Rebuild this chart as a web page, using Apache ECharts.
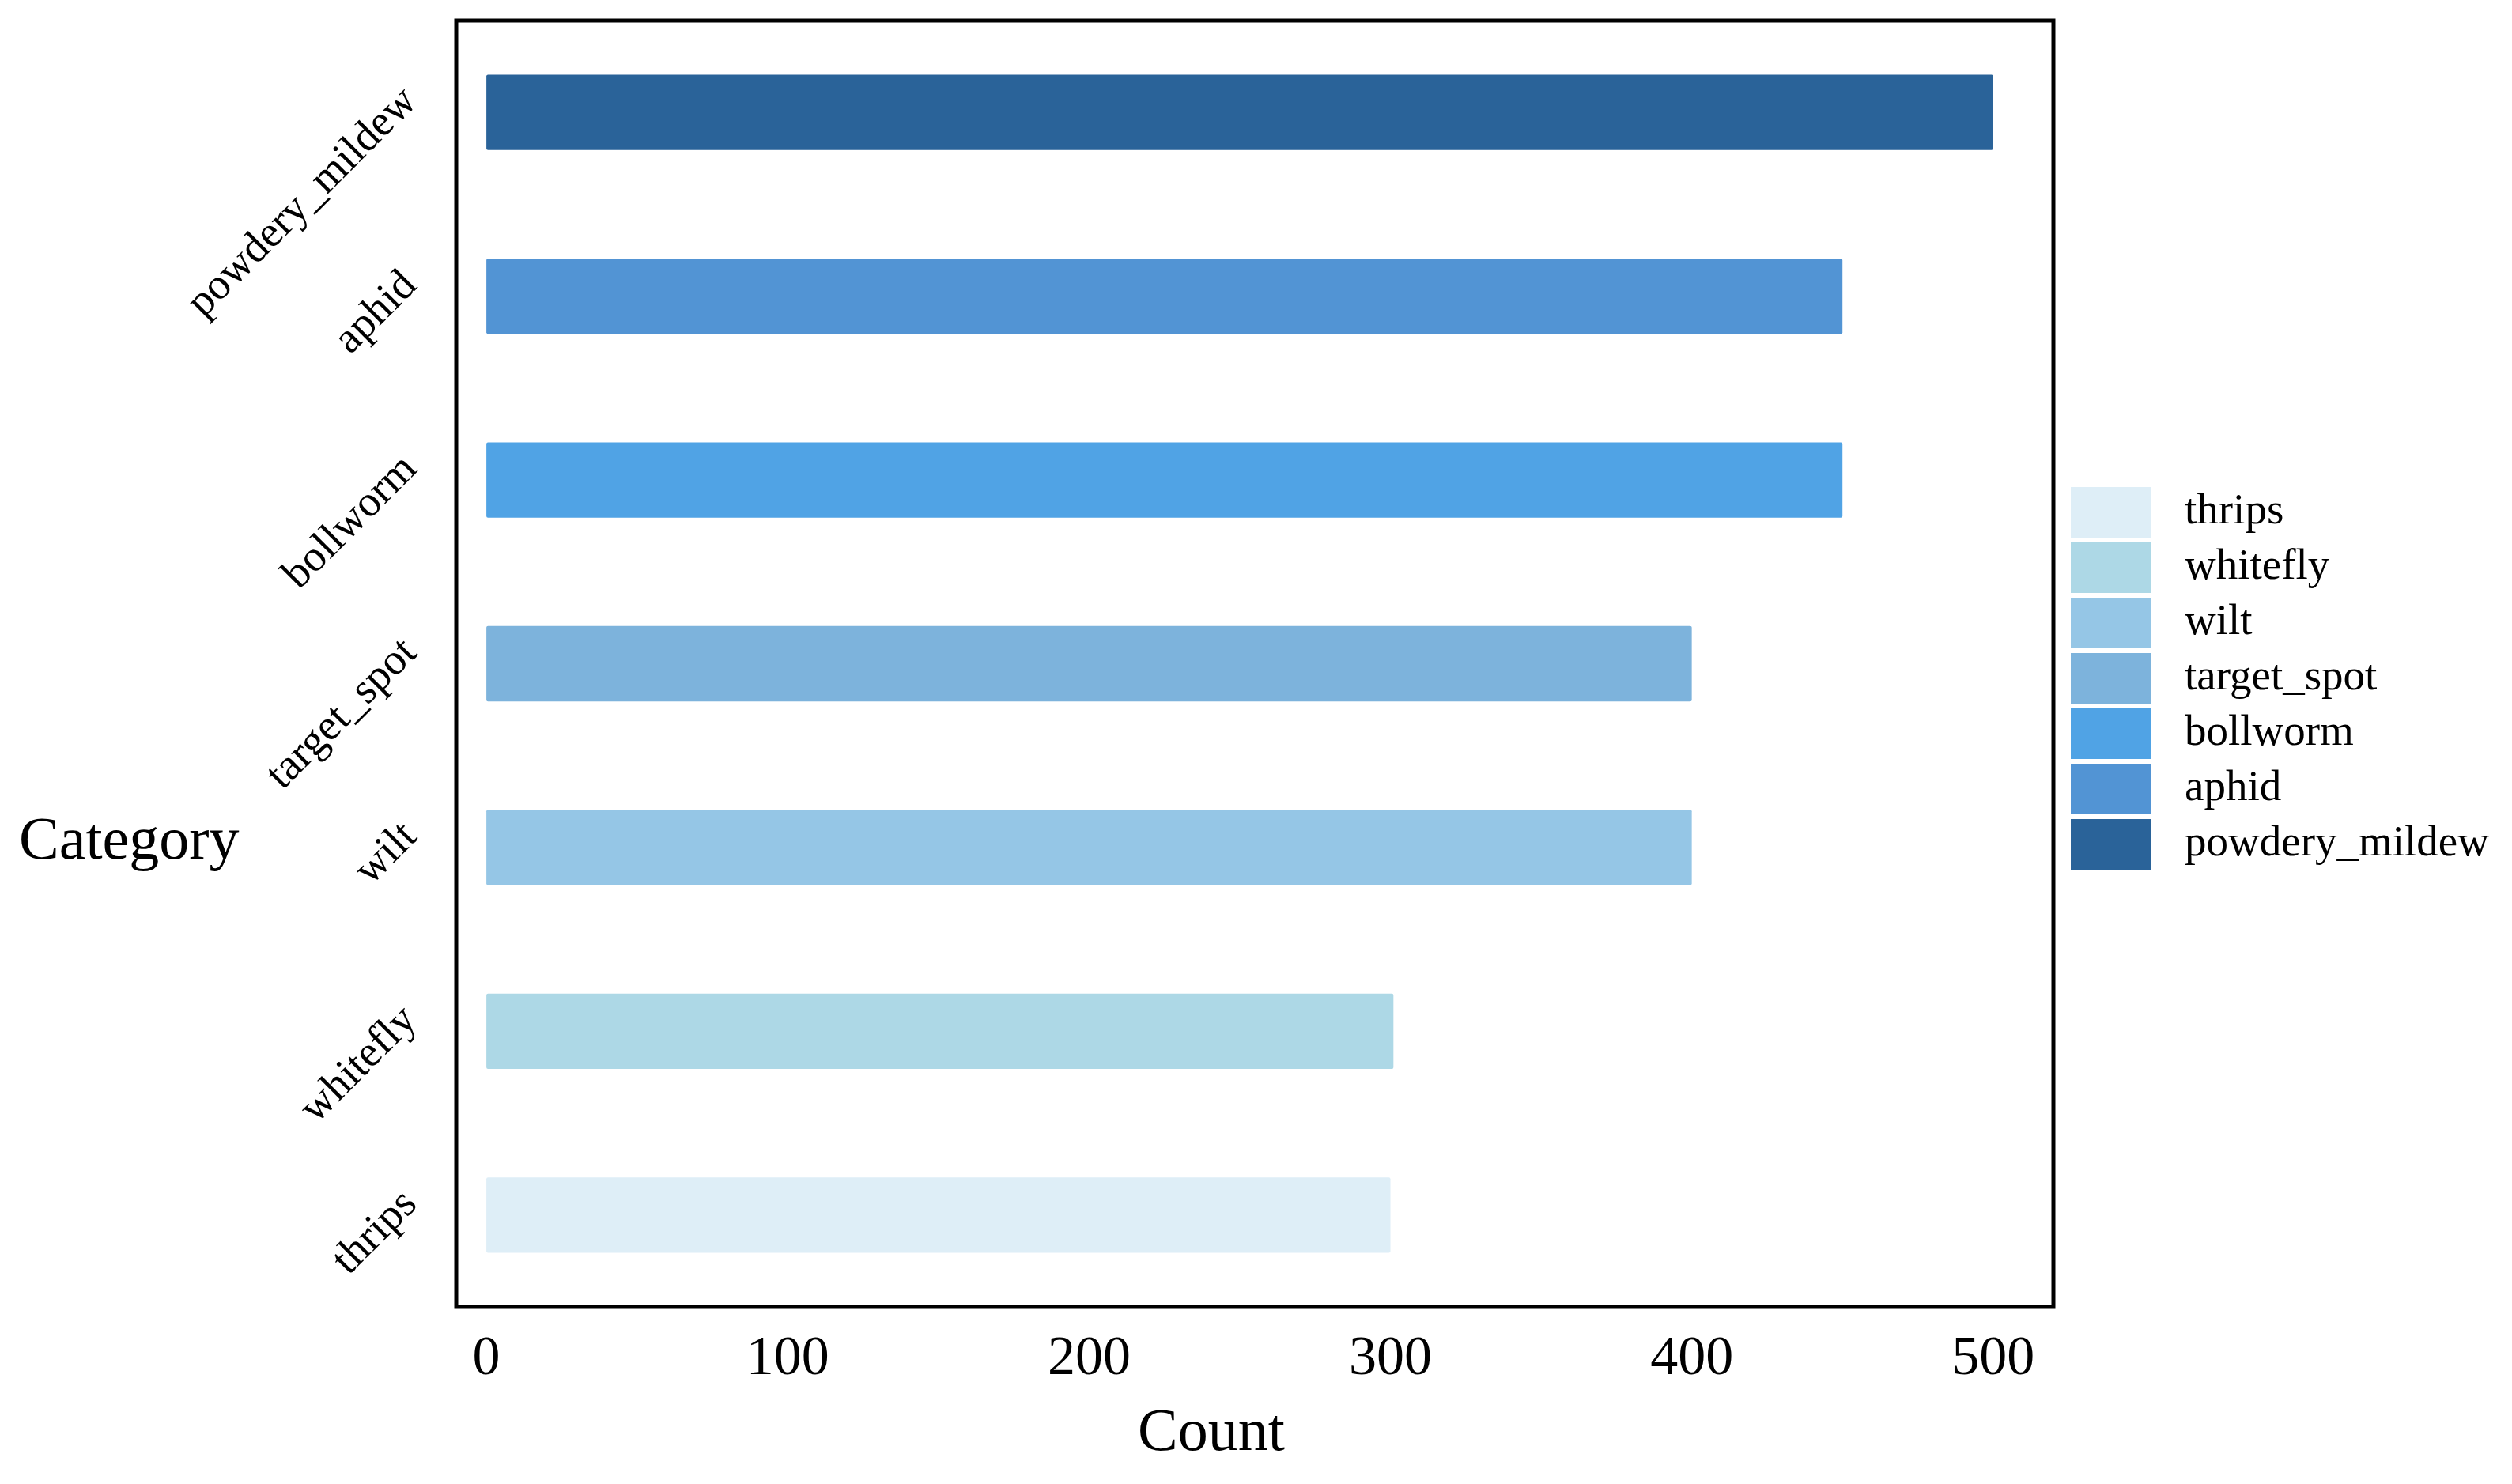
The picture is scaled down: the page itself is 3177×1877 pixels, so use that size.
<!DOCTYPE html>
<html>
<head>
<meta charset="utf-8">
<script src="https://cdn.jsdelivr.net/npm/echarts@6/dist/echarts.min.js"></script>
<style>
  html, body { margin: 0; padding: 0; background: #fff; }
  #chart { width: 3177px; height: 1877px; }
</style>
</head>
<body>
<div id="chart"></div>
<script>
// bottom to top, same order as the legend
var categories = ['thrips', 'whitefly', 'wilt', 'target_spot', 'bollworm', 'aphid', 'powdery_mildew'];
var counts = [300, 301, 400, 400, 450, 450, 500];
var colors = ['#deeef7', '#add8e6', '#95c6e6', '#7db3dc', '#50a3e5', '#5294d4', '#2a6399'];
var xTicks = [0, 100, 200, 300, 400, 500];

var font = 'Liberation Serif';
var myChart = echarts.init(document.getElementById('chart'));

var series = categories.map(function (name, i) {
    var data = categories.map(function (c, j) {
        return j === i ? counts[i] : null;
    });
    return {
        name: name,
        type: 'bar',
        stack: 'all',
        barWidth: '41%',
        itemStyle: {
            color: colors[i],
            borderRadius: 2
        },
        data: data
    };
});

var option = {
    backgroundColor: '#fff',
    animation: false,
    grid: {
        left: 577,
        right: 580,
        top: 26,
        bottom: 224,
        outerBoundsMode: 'none',
        containLabel: false,
        show: true,
        borderColor: '#000',
        borderWidth: 5
    },
    // axis titles are not centred on the plot in the original, so placed by hand
    graphic: [{
        type: 'text',
        left: 24,
        top: 1028,
        style: {
            text: 'Category',
            fontFamily: font,
            fontSize: 76,
            fill: '#000'
        }
    }, {
        type: 'text',
        x: 1532,
        y: 1814,
        style: {
            text: 'Count',
            fontFamily: font,
            fontSize: 76,
            fill: '#000',
            align: 'center',
            verticalAlign: 'middle'
        }
    }],
    legend: {
        orient: 'vertical',
        left: 2619,
        top: 616,
        padding: 0,
        icon: 'rect',
        itemWidth: 101,
        itemHeight: 64,
        itemGap: 6,
        data: categories,
        textStyle: {
            fontFamily: font,
            fontSize: 55,
            color: '#000',
            padding: [0, 0, 0, 38]
        }
    },
    xAxis: {
        type: 'value',
        min: -10,
        max: 520,
        axisLine: { show: false },
        axisTick: { show: false },
        splitLine: { show: false },
        axisLabel: {
            customValues: xTicks,
            fontFamily: font,
            fontSize: 70,
            color: '#000',
            margin: 32
        }
    },
    yAxis: {
        type: 'category',
        data: categories,
        axisLine: { show: false },
        axisTick: { show: false },
        axisLabel: {
            rotate: 45,
            fontFamily: font,
            fontSize: 55,
            lineHeight: 62,
            verticalAlign: 'bottom',
            color: '#000',
            margin: 36
        }
    },
    series: series
};
myChart.setOption(option);
</script>
</body>
</html>
